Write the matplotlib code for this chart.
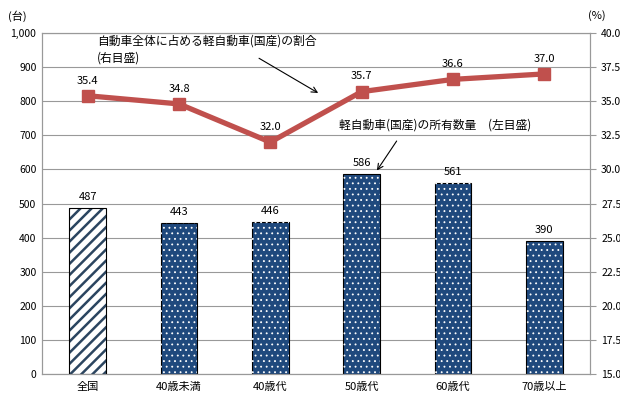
import matplotlib.pyplot as plt
import numpy as np

plt.rcParams['font.family'] = ['Noto Sans CJK JP', 'DejaVu Sans']

categories = ["全国", "40歳未満", "40歳代", "50歳代", "60歳代", "70歳以上"]
counts = [487, 443, 446, 586, 561, 390]
share = [35.4, 34.8, 32.0, 35.7, 36.6, 37.0]

navy = "#1F497D"
red = "#C0504D"

fig = plt.figure(figsize=(6.2, 4.0), dpi=100)
ax = fig.add_axes([42 / 620, 1 - 374 / 400, 548 / 620, 341 / 400])
x = np.arange(len(categories))

# first bar: diagonal stripes
plt.rcParams['hatch.linewidth'] = 1.8
ax.bar(x[0], counts[0], width=0.4, color="white", edgecolor="#2B4560", hatch="///", linewidth=0, zorder=2)
ax.bar(x[0], counts[0], width=0.4, color="none", edgecolor="black", linewidth=0.8, zorder=3)

# other bars: navy with small white dots
ax.bar(x[1:], counts[1:], width=0.4, color=navy, edgecolor="black", linewidth=0.8, zorder=2)
plt.rcParams['hatch.linewidth'] = 0.6
ax.bar(x[1:], counts[1:], width=0.4, color="none", edgecolor="white", hatch="...", linewidth=0, zorder=3)

for xi, v in zip(x, counts):
    ax.text(xi, v + 18, str(v), ha="center", va="bottom", fontsize=8)

ax.set_xlim(-0.5, len(categories) - 0.5)
ax.set_ylim(0, 1000)
ax.set_yticks(range(0, 1001, 100))
ax.set_yticklabels([f"{v:,}" for v in range(0, 1001, 100)], fontsize=7.5)
ax.set_xticks(x)
ax.set_xticklabels(categories, fontsize=8)
ax.tick_params(axis="x", length=0, pad=6)
ax.tick_params(axis="y", length=0, pad=4)
ax.grid(axis="y", color="#999999", linewidth=0.8, zorder=0)
ax.set_axisbelow(True)
for s in ax.spines.values():
    s.set_color("#999999")

ax2 = ax.twinx()
ax2.plot(x, share, color=red, linewidth=3.8, marker="s", markersize=8, zorder=5)
for xi, v in zip(x, share):
    ax2.text(xi, v + 0.75, f"{v:.1f}", ha="center", va="bottom", fontsize=8)
ax2.set_ylim(15, 40)
ticks2 = np.arange(15, 40.1, 2.5)
ax2.set_yticks(ticks2)
ax2.set_yticklabels([f"{t:.1f}" for t in ticks2], fontsize=7.5)
ax2.tick_params(axis="y", length=4, color="#999999", pad=4)
for s in ax2.spines.values():
    s.set_color("#999999")

fig.text(8 / 620, 1 - 16 / 400, "(台)", fontsize=8, va="center")
fig.text(588 / 620, 1 - 16 / 400, "(%)", fontsize=8, va="center")

ax.annotate("", xy=(2.55, 820), xytext=(1.85, 930),
            arrowprops=dict(arrowstyle="->", color="black", lw=0.8))
ax.text(0.1, 995, "自動車全体に占める軽自動車(国産)の割合\n(右目盛)", fontsize=8.5, va="top", linespacing=1.4)
ax.annotate("", xy=(3.15, 590), xytext=(3.4, 690),
            arrowprops=dict(arrowstyle="->", color="black", lw=0.8))
ax.text(2.75, 730, "軽自動車(国産)の所有数量　(左目盛)", fontsize=8.5, va="center")

fig.savefig("out.png", dpi=100)
